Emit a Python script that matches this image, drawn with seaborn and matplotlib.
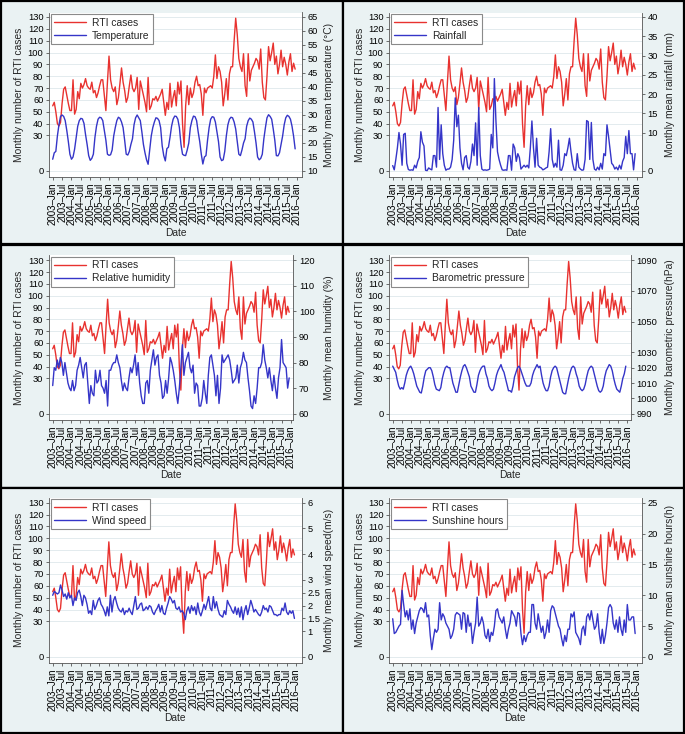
import matplotlib
matplotlib.use("Agg")
import matplotlib.pyplot as plt
import seaborn as sns
import pandas as pd
from matplotlib.patches import Rectangle

# ---------------- data ----------------
month_index = list(range(156))  # 2003-Jan ... 2015-Dec

rti_cases = [
    55, 58, 50, 40, 38, 41, 57, 69, 71, 64, 57, 51,
    51, 77, 48, 52, 67, 61, 74, 70, 73, 78, 72, 70,
    69, 75, 66, 68, 62, 66, 72, 77, 77, 64, 51, 75,
    97, 77, 70, 67, 71, 56, 62, 74, 87, 75, 68, 58,
    62, 72, 81, 70, 67, 70, 79, 52, 76, 70, 64, 58,
    50, 79, 52, 55, 61, 60, 63, 59, 62, 65, 69, 58,
    47, 58, 52, 74, 54, 62, 68, 55, 75, 65, 76, 40,
    20, 55, 72, 56, 70, 62, 66, 75, 80, 72, 73, 65,
    47, 70, 66, 70, 71, 72, 70, 80, 98, 78, 88, 84,
    75, 55, 65, 78, 60, 82, 88, 88, 110, 129, 115, 95,
    88, 84, 99, 72, 63, 99, 76, 85, 88, 91, 95, 93,
    86, 103, 75, 62, 60, 80, 105, 93, 100, 108, 90, 97,
    82, 90, 102, 88, 96, 90, 81, 92, 99, 84, 91, 86,
]

temperature = [
    14.2, 16.5, 17.0, 22.5, 26.5, 29.5, 30.0, 29.5, 28.0, 24.5, 20.5, 16.0,
    14.2, 15.0, 17.8, 22.0, 26.0, 28.0, 28.8, 28.6, 27.0, 23.0, 19.5, 15.5,
    13.8, 14.5, 16.0, 22.0, 26.0, 28.5, 29.2, 29.0, 28.0, 24.5, 21.0, 16.0,
    15.6, 15.8, 17.5, 22.5, 25.5, 28.0, 29.2, 28.8, 27.5, 25.5, 21.0, 16.0,
    15.7, 17.0, 19.5, 21.5, 26.5, 29.0, 30.0, 29.0, 28.0, 24.0, 19.5, 16.5,
    14.0, 12.4, 17.5, 22.5, 25.5, 27.5, 29.0, 28.8, 28.0, 25.5, 19.0, 15.5,
    13.6, 18.0, 18.5, 22.0, 26.0, 28.5, 29.6, 29.5, 28.5, 25.5, 19.5, 16.0,
    15.6, 15.5, 17.5, 20.0, 25.5, 28.0, 29.6, 29.4, 28.0, 24.0, 20.5, 16.0,
    12.5, 15.0, 15.5, 21.0, 25.5, 28.5, 29.4, 29.2, 27.5, 24.0, 20.5, 15.0,
    13.7, 14.0, 17.0, 22.5, 26.5, 28.5, 29.2, 29.0, 27.5, 25.0, 20.5, 16.0,
    15.5, 17.5, 20.0, 21.5, 26.0, 28.0, 28.9, 28.5, 27.5, 24.0, 20.0, 15.0,
    14.0, 14.5, 16.0, 21.5, 25.5, 29.0, 30.1, 29.5, 28.5, 25.0, 21.0, 15.5,
    15.4, 16.5, 19.5, 22.5, 26.5, 29.0, 29.9, 29.5, 28.5, 26.0, 22.5, 17.9,
]

rainfall = [
    1.4, 0.3, 3.0, 6.0, 10.0, 7.0, 1.5, 9.5, 9.8, 2.0, 0.4, 0.2,
    0.3, 0.2, 1.5, 0.8, 2.5, 3.5, 10.2, 7.5, 6.5, 0.2, 0.1, 0.8,
    0.5, 0.3, 4.0, 4.0, 1.0, 16.5, 3.0, 12.0, 4.5, 1.5, 0.2, 0.5,
    0.5, 1.0, 3.0, 8.0, 19.0, 11.5, 14.5, 6.0, 2.0, 0.3, 3.5, 4.0,
    1.0, 0.5, 2.5, 7.0, 4.0, 12.5, 1.5, 16.5, 4.0, 0.5, 0.2, 0.3,
    0.2, 0.3, 0.5, 9.5, 6.0, 24.0, 13.0, 5.0, 3.0, 1.5, 0.3, 0.2,
    0.3, 0.2, 4.0, 4.0, 0.2, 7.0, 6.0, 2.5, 4.5, 3.5, 0.5, 1.0,
    1.5, 1.0, 1.5, 0.8, 6.0, 13.0, 6.0, 1.0, 8.5, 1.5, 1.0, 0.8,
    0.3, 0.5, 0.8, 1.0, 5.0, 11.0, 3.0, 1.0, 2.0, 1.0, 8.0, 0.3,
    0.2, 1.5, 4.5, 4.0, 6.0, 8.5, 5.0, 2.0, 0.3, 0.2, 4.5, 1.0,
    0.5, 0.2, 0.3, 3.0, 13.1, 12.8, 3.0, 12.6, 3.0, 0.5, 0.2, 1.0,
    0.3, 2.0, 0.5, 4.5, 4.0, 12.0, 9.0, 5.5, 2.0, 1.5, 0.5, 1.0,
    0.3, 1.5, 0.5, 2.5, 3.5, 9.0, 4.5, 10.5, 4.5, 4.5, 0.3, 4.5,
]

humidity = [
    71, 78, 77, 81, 78, 82, 80, 75, 80, 76, 72, 70,
    69, 73, 69, 71, 77, 79, 82, 78, 74, 79, 80, 72,
    64, 71, 68, 67, 77, 72, 73, 77, 71, 70, 68, 73,
    63, 77, 77, 79, 80, 80, 83, 80, 78, 73, 69, 72,
    70, 69, 74, 78, 76, 79, 83, 75, 80, 72, 67, 64,
    64, 72, 73, 68, 77, 81, 85, 79, 82, 83, 75, 72,
    66, 67, 73, 68, 74, 82, 80, 77, 73, 68, 64, 70,
    78, 87, 75, 80, 82, 84, 78, 76, 79, 68, 72, 71,
    63, 63, 66, 73, 68, 64, 75, 82, 83, 79, 75, 67,
    75, 64, 70, 83, 80, 81, 82, 83, 81, 77, 72, 73,
    74, 79, 72, 78, 80, 84, 81, 80, 74, 69, 63, 62,
    67, 64, 70, 78, 78, 80, 87, 81, 78, 74, 78, 73,
    69, 75, 70, 66, 74, 78, 89, 80, 79, 78, 70, 74,
]

pressure = [
    1021, 1019, 1017, 1012, 1008, 1006, 1007, 1006, 1010, 1015, 1018, 1020,
    1021, 1019, 1016, 1012, 1008, 1006, 1004, 1003.5, 1008, 1014, 1018, 1019,
    1020, 1020, 1018, 1014, 1009, 1006, 1005.5, 1005, 1007, 1013, 1017, 1020,
    1021, 1020, 1020, 1015, 1010, 1007, 1004, 1004, 1009, 1014, 1018, 1021,
    1022, 1020, 1017, 1014, 1008, 1006, 1004, 1004, 1009, 1015, 1018, 1020,
    1021, 1021, 1016, 1013, 1008, 1006, 1005, 1006, 1010, 1015, 1018, 1020,
    1022, 1019, 1017, 1013, 1009, 1005, 1005, 1004, 1008, 1014, 1017, 1020,
    1021, 1019, 1016, 1013, 1010, 1008, 1008, 1008, 1010, 1015, 1018, 1020,
    1022, 1020, 1021, 1015, 1010, 1007, 1005, 1005, 1008, 1014, 1018, 1020,
    1021, 1020, 1016, 1012, 1008, 1004, 1003, 1003, 1008, 1013, 1017, 1020,
    1021, 1020, 1016, 1013, 1008, 1006, 1005, 1006, 1009, 1014, 1018, 1020,
    1021, 1020, 1016, 1012, 1008, 1005, 1004, 1005, 1008, 1014, 1018, 1020,
    1022, 1021, 1018, 1013, 1009, 1006, 1005, 1004, 1008, 1013, 1016, 1021,
]

wind_speed = [
    2.4, 2.55, 2.5, 2.45, 2.5, 2.8, 2.6, 2.35, 2.45, 2.25, 2.5, 2.3,
    2.4, 2.0, 2.3, 2.2, 2.5, 2.6, 2.35, 2.0, 2.4, 2.3, 2.05, 1.7,
    1.8, 1.65, 2.2, 1.85, 2.0, 2.2, 2.3, 2.05, 1.95, 1.8, 1.6, 1.95,
    1.6, 2.4, 1.75, 2.2, 2.35, 2.1, 1.9, 1.8, 1.75, 1.9, 1.65, 1.8,
    1.75, 1.9, 1.75, 1.65, 2.0, 2.35, 1.85, 1.9, 2.05, 2.1, 1.8, 1.85,
    1.95, 1.85, 2.0, 1.95, 1.75, 1.65, 1.8, 1.9, 2.05, 1.75, 2.0, 1.7,
    1.65, 1.9, 2.1, 2.35, 2.25, 2.1, 2.2, 1.9, 1.85, 1.95, 1.75, 1.8,
    1.7, 1.45, 1.8, 1.95, 1.7, 2.0, 1.8, 1.95, 1.65, 2.1, 1.75, 1.6,
    1.8, 2.05, 1.85, 2.1, 2.35, 1.9, 1.8, 2.35, 1.9, 2.15, 1.85, 1.65,
    1.6, 1.55, 1.8, 1.65, 2.2, 2.05, 1.95, 1.8, 1.7, 1.95, 1.65, 1.9,
    1.55, 1.95, 1.45, 1.8, 2.0, 1.65, 1.9, 2.2, 2.0, 1.75, 1.85, 1.75,
    1.65, 1.6, 1.75, 2.0, 1.85, 1.9, 1.75, 2.0, 1.95, 1.8, 1.65, 1.65,
    1.6, 1.65, 1.65, 1.9, 1.8, 2.1, 1.75, 1.65, 1.8, 1.7, 1.8, 1.5,
]

sunshine_hours = [
    6.2, 3.8, 4.0, 4.5, 5.0, 5.3, 10.8, 8.5, 6.5, 7.5, 6.0, 7.8,
    4.5, 6.0, 3.8, 5.5, 6.5, 7.5, 8.0, 7.8, 7.2, 8.8, 6.5, 6.8,
    3.5, 1.2, 3.0, 4.5, 4.0, 4.5, 8.8, 6.0, 7.0, 6.5, 5.5, 5.0,
    4.5, 3.0, 3.5, 4.5, 6.8, 7.2, 7.0, 6.8, 4.5, 7.2, 7.0, 4.0,
    6.8, 5.0, 5.5, 2.2, 4.0, 5.5, 9.7, 5.0, 5.5, 6.5, 5.5, 3.5,
    3.0, 4.5, 2.5, 4.0, 3.5, 5.0, 7.5, 7.8, 6.5, 6.0, 5.5, 6.5,
    4.5, 3.0, 4.5, 5.5, 7.5, 7.0, 6.5, 5.0, 7.2, 7.0, 3.8, 2.0,
    3.5, 2.5, 3.5, 4.0, 4.0, 8.5, 8.5, 5.5, 4.5, 7.0, 5.5, 4.0,
    5.0, 3.0, 4.0, 6.0, 4.0, 7.5, 8.3, 8.0, 7.0, 6.0, 5.0, 4.5,
    3.0, 1.8, 3.5, 2.5, 4.5, 4.5, 7.0, 6.5, 7.3, 4.0, 3.5, 3.0,
    2.0, 4.5, 5.0, 3.5, 6.5, 7.0, 6.0, 7.5, 6.0, 4.5, 5.0, 7.0,
    4.0, 2.2, 4.5, 2.2, 3.5, 5.5, 8.0, 8.5, 8.0, 5.5, 4.5, 6.0,
    4.0, 6.5, 4.5, 3.5, 6.0, 4.0, 8.5, 6.0, 6.0, 6.5, 6.5, 3.8,
]

date_tick_labels = [
    "2003–Jan", "2003–Jul", "2004–Jan", "2004–Jul", "2005–Jan", "2005–Jul",
    "2006–Jan", "2006–Jul", "2007–Jan", "2007–Jul", "2008–Jan", "2008–Jul",
    "2009–Jan", "2009–Jul", "2010–Jan", "2010–Jul", "2011–Jan", "2011–Jul",
    "2012–Jan", "2012–Jul", "2013–Jan", "2013–Jul", "2014–Jan", "2014–Jul",
    "2015–Jan", "2015–Jul", "2016–Jan",
]
date_tick_positions = list(range(0, 157, 6))

rti_ticks = [0, 30, 40, 50, 60, 70, 80, 90, 100, 110, 120, 130]

covariates = [
    dict(values=temperature, legend="Temperature", label="Monthly mean temperature (°C)",
         ticks=[10, 15, 20, 25, 30, 35, 40, 45, 50, 55, 60, 65], tlabels=None, span=(10, 65)),
    dict(values=rainfall, legend="Rainfall", label="Monthly mean rainfall (mm)",
         ticks=[0, 10, 15, 20, 25, 30, 35, 40], tlabels=None, span=(0, 40)),
    dict(values=humidity, legend="Relative humidity", label="Monthly mean humidity (%)",
         ticks=[60, 70, 80, 90, 100, 110, 120], tlabels=None, span=(60, 120)),
    dict(values=pressure, legend="Barometric pressure", label="Monthly barometric pressure(hPa)",
         ticks=[990, 1000, 1010, 1020, 1030, 1050, 1070, 1090], tlabels=None, span=(990, 1090)),
    dict(values=wind_speed, legend="Wind speed", label="Monthly mean wind speed(m/s)",
         ticks=[0, 1, 1.5, 2, 2.5, 3, 4, 5, 6], tlabels=["0", "1", "1.5", "2", "2.5", "3", "4", "5", "6"], span=(0, 6)),
    dict(values=sunshine_hours, legend="Sunshine hours", label="Monthly mean sunshine hours(h)",
         ticks=[0, 5, 10, 15, 20, 25], tlabels=None, span=(0, 25)),
]

# ---------------- layout (pixels) ----------------
W, H = 685, 734
boxes = [(1, 1, 342.5, 244.5), (342.5, 1, 684, 244.5),
         (1, 244.5, 342.5, 488), (342.5, 244.5, 684, 488),
         (1, 488, 342.5, 732.5), (342.5, 488, 684, 732.5)]
# ax_left, ax_right, x_2003Jan, x_2016Jan, y_zero, y_130, ax_top, ax_bot
geo = [
    (49, 302, 52.7, 296.7, 171, 17, 12.5, 177),
    (389, 642, 392.7, 636.7, 171, 17, 12.5, 177),
    (49, 293.3, 52.7, 290.7, 413.7, 260.3, 255, 420),
    (389, 630.7, 392.7, 627.3, 413.7, 260.3, 255, 420),
    (49, 301.7, 52.7, 296, 657, 502.7, 497.7, 662.7),
    (389, 641.7, 392.7, 636.7, 657, 502.7, 497.7, 662.7),
]

sns.set_theme(style="white")
plt.rcParams['font.family'] = ['Liberation Sans', 'DejaVu Sans']

RED = "#e8322f"
BLUE = "#3535c8"
BG = "#eaf2f3"
AXC = "#555555"
YTICK_FS = 6.7
XTICK_FS = 7.0
LAB_FS = 7.4

fig = plt.figure(figsize=(W / 100, H / 100), dpi=100)
fig.patch.set_facecolor(BG)

for (x0, y0, x1, y1) in boxes:
    fig.add_artist(Rectangle((x0 / W, 1 - y1 / H), (x1 - x0) / W, (y1 - y0) / H,
                             transform=fig.transFigure, facecolor=BG,
                             edgecolor="black", linewidth=1.6, zorder=-5))

df = pd.DataFrame({"month": month_index, "rti": rti_cases})

for i, cov in enumerate(covariates):
    L, R, x03, x16, yz, y130, top, bot = geo[i]
    bx0 = boxes[i][0]
    ax = fig.add_axes([L / W, 1 - bot / H, (R - L) / W, (bot - top) / H])
    ax.set_facecolor("white")
    ppm = (x16 - x03) / 156.0
    ax.set_xlim((L - x03) / ppm, (R - x03) / ppm)
    ppu = (yz - y130) / 130.0
    ylo = -(bot - yz) / ppu
    yhi = 130 + (y130 - top) / ppu
    ax.set_ylim(ylo, yhi)

    d = df.copy()
    d["cov"] = cov["values"]
    sns.lineplot(data=d, x="month", y="rti", ax=ax, color=RED, linewidth=1.0, legend=False)
    ax2 = ax.twinx()
    r0, r1 = cov["span"]
    ax2.set_ylim(r0 + ylo / 130 * (r1 - r0), r0 + yhi / 130 * (r1 - r0))
    sns.lineplot(data=d, x="month", y="cov", ax=ax2, color=BLUE, linewidth=1.0, legend=False)

    ax.set_yticks(rti_ticks)
    ax.set_yticklabels([str(t) for t in rti_ticks])
    ax.yaxis.grid(True, color="#e3ebee", linewidth=0.7)
    ax.xaxis.grid(False)
    ax.set_axisbelow(True)
    ax.set_xticks(date_tick_positions)
    ax.set_xticklabels(date_tick_labels, rotation=90)
    ax2.set_yticks(cov["ticks"])
    if cov["tlabels"]:
        ax2.set_yticklabels(cov["tlabels"])
    ax2.grid(False)

    for a in (ax, ax2):
        for s in a.spines.values():
            s.set_visible(False)
    ax.spines["left"].set_visible(True)
    ax.spines["bottom"].set_visible(True)
    ax2.spines["right"].set_visible(True)
    for a, side in ((ax, "left"), (ax, "bottom"), (ax2, "right")):
        a.spines[side].set_color(AXC)
        a.spines[side].set_linewidth(0.6)
    ax.tick_params(axis="y", which="both", direction="out", length=2.5, width=0.6,
                   color=AXC, labelsize=YTICK_FS, labelcolor="black", pad=1.5, left=True)
    ax.tick_params(axis="x", which="both", direction="out", length=2.5, width=0.6,
                   color=AXC, labelsize=XTICK_FS, labelcolor="black", pad=1.5, bottom=True)
    ax2.tick_params(axis="y", direction="out", length=2.5, width=0.6, color=AXC,
                    labelsize=YTICK_FS, labelcolor="black", pad=1.5, right=True)

    ax.set_xlabel("Date", fontsize=LAB_FS)
    ax.set_ylabel("Monthly number of RTI cases", fontsize=LAB_FS)
    ax2.set_ylabel(cov["label"], fontsize=LAB_FS)
    ax.xaxis.set_label_coords(((L + R) / 2) / W, 1 - (bot + 50.5) / H, transform=fig.transFigure)
    ax.yaxis.set_label_coords((L - 24.5) / W, 1 - ((top + bot) / 2) / H, transform=fig.transFigure)
    ax2.yaxis.set_label_coords((bx0 + 322.5) / W, 1 - ((top + bot) / 2) / H, transform=fig.transFigure)

    handles = [ax.lines[0], ax2.lines[0]]
    leg = ax2.legend(handles, ["RTI cases", cov["legend"]], loc="upper left",
                     bbox_to_anchor=((L + 1.5) / W, 1 - (top + 1.5) / H),
                     bbox_transform=fig.transFigure, borderaxespad=0,
                     fontsize=LAB_FS, frameon=True, fancybox=False,
                     handlelength=3.1, handletextpad=0.6, labelspacing=0.3,
                     borderpad=0.35)
    leg.get_frame().set_edgecolor("#8a8a8a")
    leg.get_frame().set_linewidth(0.8)
    leg.get_frame().set_facecolor("white")
    leg.get_frame().set_alpha(1)

fig.savefig("out.png", dpi=100, facecolor=BG)
